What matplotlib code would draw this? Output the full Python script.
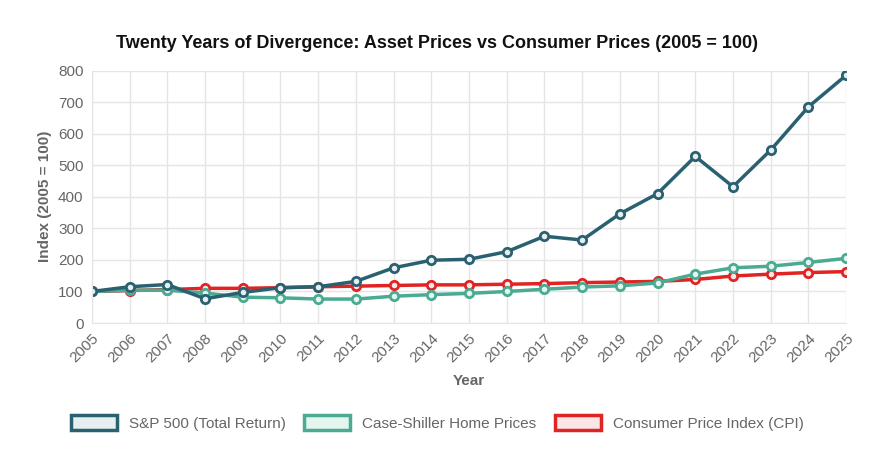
import matplotlib.pyplot as plt
from matplotlib.patches import Patch

years = list(range(2005, 2026))
sp500 = [100, 115, 122, 77, 97, 112, 115, 132, 175, 199, 202, 226, 275, 263, 346, 410, 528, 432, 548, 685, 785]
case_shiller = [100, 104, 104, 95, 82, 80, 76, 76, 85, 90, 94, 100, 107, 114, 118, 127, 155, 175, 180, 192, 205]
cpi = [100, 103, 106, 110, 110, 112, 115, 117, 119, 121, 121, 123, 125, 128, 130, 132, 138, 149, 155, 160, 163]

series = [
    ("S&P 500 (Total Return)", sp500, "#2a6171", "#e6eef0"),
    ("Case-Shiller Home Prices", case_shiller, "#4aab92", "#e4f4ef"),
    ("Consumer Price Index (CPI)", cpi, "#e02424", "#fbe6e6"),
]

plt.rcParams['font.family'] = ['Liberation Sans', 'DejaVu Sans']
fig = plt.figure(figsize=(8.75, 4.55), dpi=100)
ax = fig.add_axes([0.105, 0.29, 0.862, 0.555])

for name, vals, col, face in reversed(series):
    ax.plot(years, vals, color=col, lw=2.5, marker='o', ms=6, mfc=face, mec=col, mew=2)

ax.set_xlim(2005, 2025)
ax.set_ylim(0, 800)
ax.set_yticks(range(0, 801, 100))
ax.set_xticks(years)
ax.set_xticklabels([str(y) for y in years], rotation=45, ha='right', rotation_mode='anchor')
ax.tick_params(colors='#666666', labelsize=11, length=0, pad=6)
ax.grid(color='#e5e5e5', lw=1)
for s in ax.spines.values():
    s.set_visible(False)
ax.spines['left'].set_visible(True)
ax.spines['left'].set_color('#e5e5e5')
ax.spines['bottom'].set_visible(True)
ax.spines['bottom'].set_color('#e5e5e5')
ax.set_xlabel("Year", fontsize=11, fontweight='bold', color='#666666', labelpad=6)
ax.set_ylabel("Index (2005 = 100)", fontsize=11, fontweight='bold', color='#666666')
fig.text(0.5, 0.895, "Twenty Years of Divergence: Asset Prices vs Consumer Prices (2005 = 100)",
         ha='center', fontsize=13, fontweight='bold', color='#111111')

handles = [Patch(facecolor=face, edgecolor=col, lw=2.5, label=name) for name, _, col, face in series]
fig.legend(handles=handles, loc='center', bbox_to_anchor=(0.5, 0.07), ncol=3, frameon=False,
           fontsize=11, handlelength=3, handleheight=1.1, columnspacing=1.2, labelcolor='#666666')

fig.savefig("out.png")
